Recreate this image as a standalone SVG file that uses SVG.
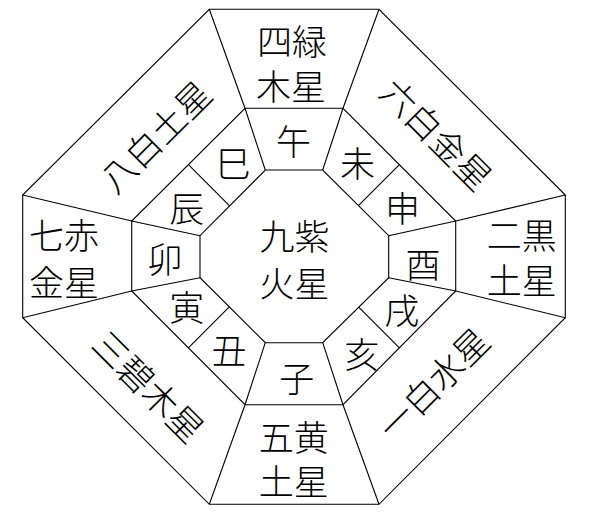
<svg xmlns="http://www.w3.org/2000/svg" width="591" height="517" viewBox="0 0 591 517">
<style>
.ln{fill:none;stroke:#000;stroke-width:1.1;stroke-linejoin:miter}
.t{font-family:"Noto Sans CJK JP","Noto Sans CJK SC",sans-serif;font-size:35px;font-weight:300;fill:#000;text-anchor:middle;dominant-baseline:central}
</style>
<rect width="591" height="517" fill="#fff"/>
<g id="grid">
<polygon class="ln" points="209.3,9.3 379,9.3 565.3,195 565.3,317.7 379,504.3 209.3,504.3 22.7,317.7 22.7,195"/>
<polygon class="ln" points="245,108.3 343,108.3 455.7,221 455.7,291 343,404.7 245,404.7 131.7,291 131.7,221"/>
<polygon class="ln" points="265.3,170 322.7,170 388.7,235.7 388.7,277.7 322.7,342.7 265.3,342.7 200,277.7 200,235.7"/>
<path class="ln" d="M209.3,9.3L245,108.3L265.3,170 M379,9.3L343,108.3L322.7,170 M565.3,195L455.7,221L388.7,235.7 M565.3,317.7L455.7,291L388.7,277.7 M379,504.3L343,404.7L322.7,342.7 M209.3,504.3L245,404.7L265.3,342.7 M22.7,317.7L131.7,291L200,277.7 M22.7,195L131.7,221L200,235.7"/>
<path class="ln" d="M188.4,164.7L229.6,205.9 M399.4,164.7L358.4,205.6 M399.4,347.9L358.7,307.2 M188.4,347.9L229.3,306.9"/>
</g>
<g id="n-center"><text class="t"><tspan x="294.5" y="233.5">九紫</tspan><tspan x="294.5" y="280.5">火星</tspan></text></g>
<g id="n-4"><text class="t"><tspan x="292" y="38.5">四緑</tspan><tspan x="291" y="84">木星</tspan></text></g>
<g id="n-7"><text class="t"><tspan x="64" y="233">七赤</tspan><tspan x="64" y="279.5">金星</tspan></text></g>
<g id="n-2"><text class="t"><tspan x="521.7" y="233">二黒</tspan><tspan x="521.7" y="278">土星</tspan></text></g>
<g id="n-5"><text class="t"><tspan x="293.7" y="434.5">五黄</tspan><tspan x="293.7" y="479">土星</tspan></text></g>
<g id="n-8"><text class="t" transform="translate(154,135) rotate(-45)" x="0" y="0">八白土星</text></g>
<g id="n-6"><text class="t" transform="translate(438,133) rotate(45)" x="0" y="0">六白金星</text></g>
<g id="n-3"><text class="t" transform="translate(150,385) rotate(45)" x="0" y="0">三碧木星</text></g>
<g id="n-1"><text class="t" transform="translate(432,382) rotate(-45)" x="0" y="0">一白水星</text></g>
<g id="z-uma"><text class="t" x="293.5" y="139">午</text></g>
<g id="z-hitsuji"><text class="t" x="357.5" y="161">未</text></g>
<g id="z-saru"><text class="t" x="402.5" y="206">申</text></g>
<g id="z-tori"><text class="t" x="423" y="262">酉</text></g>
<g id="z-inu"><text class="t" x="401.7" y="308.7">戌</text></g>
<g id="z-i"><text class="t" x="361.7" y="352">亥</text></g>
<g id="z-ne"><text class="t" x="296.7" y="376.7">子</text></g>
<g id="z-ushi"><text class="t" x="229" y="348.7">丑</text></g>
<g id="z-tora"><text class="t" x="186.7" y="305">寅</text></g>
<g id="z-u"><text class="t" x="165" y="257">卯</text></g>
<g id="z-tatsu"><text class="t" x="186.7" y="206.7">辰</text></g>
<g id="z-mi"><text class="t" x="233.3" y="161.7">巳</text></g>
</svg>
